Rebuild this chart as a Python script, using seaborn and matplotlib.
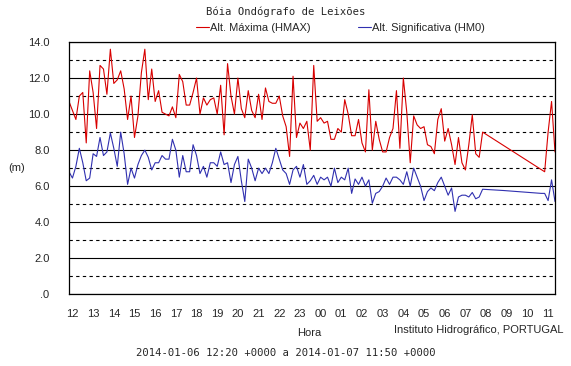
import pandas as pd
import matplotlib.pyplot as plt
import matplotlib.dates as mdates
from matplotlib.ticker import MultipleLocator, FixedLocator
import seaborn as sns

# Dados (intervalos de 10 min a partir de 2014-01-06 12:20)
INICIO = '2014-01-06 12:20'
hmax = [10.7, 10.2, 9.7, 11.0, 11.2, 8.4, 12.4, 11.2, 9.2, 12.7, 12.5, 11.1, 13.6, 11.7, 11.9,
        12.4, 11.4, 9.7, 11.0, 8.7, 9.9, 12.3, 13.6, 10.8, 12.5, 10.7, 11.3, 10.1, 10.0, 9.9,
        10.4, 9.8, 12.2, 11.8, 10.5,
        10.5, 11.2, 12.0, 10.0, 10.9, 10.5, 10.8, 10.9, 10.0, 11.6, 8.85, 12.8, 11.0, 10.0, 12.0,
        10.3, 9.8, 11.3, 10.2, 9.8, 11.1, 9.7, 11.45, 10.7, 10.6, 10.6, 11.0, 9.9, 9.3, 7.65,
        12.1, 8.7, 9.5, 9.2, 9.6,
        8.0, 12.7, 9.6, 9.8, 9.5, 9.6, 8.6, 8.6, 9.2, 9.0, 10.8, 10.0, 8.8, 8.8, 9.7,
        8.4, 7.9, 11.35, 8.0, 9.6, 8.6, 7.9, 7.9, 8.7, 9.2, 11.3, 8.1, 12.0, 10.1, 7.3,
        9.9, 9.4, 9.2, 9.3, 8.3,
        8.2, 7.8, 9.7, 10.3, 8.5, 9.2, 8.3, 7.2, 8.7, 7.3, 6.9, 8.3, 9.96, 7.8, 7.6, 9.0]
hm0 = [6.8, 6.45, 7.1, 8.1, 7.3, 6.3, 6.45, 7.8, 7.65, 8.7, 7.7, 7.9, 8.95, 8.1, 7.1,
       9.0, 7.8, 6.1, 7.0, 6.45, 7.2, 7.7, 8.0, 7.6, 6.9, 7.3, 7.3, 7.7, 7.5, 7.5,
       8.6, 8.0, 6.5, 7.7, 6.8,
       6.8, 8.3, 7.7, 6.7, 7.1, 6.5, 7.3, 7.3, 7.1, 7.9, 7.2, 7.3, 6.2, 7.2, 7.65,
       6.3, 5.15, 7.5, 7.0, 6.3, 7.0, 6.7, 7.0, 6.7, 7.3, 8.1, 7.5, 6.9, 6.7, 6.1,
       6.9, 7.1, 6.5, 7.2, 6.1,
       6.3, 6.6, 6.1, 6.5, 6.35, 6.5, 6.0, 7.0, 6.2, 6.5, 6.35, 7.0, 5.6, 6.4, 6.1,
       6.5, 6.0, 6.35, 5.05, 5.6, 5.7, 6.0, 6.45, 6.1, 6.5, 6.5, 6.35, 6.1, 6.8, 6.0,
       7.0, 6.5, 6.0, 5.2, 5.7,
       5.9, 5.75, 6.2, 6.5, 6.0, 5.5, 5.9, 4.6, 5.4, 5.5, 5.5, 5.4, 5.65, 5.3, 5.4, 5.83]

# depois da falha de dados
hmax_fim_horas = ['2014-01-07 11:20', '2014-01-07 11:30', '2014-01-07 11:40', '2014-01-07 11:50']
hmax_fim = [6.8, 9.0, 10.7, 7.9]
hm0_fim_horas = ['2014-01-07 09:20', '2014-01-07 11:10', '2014-01-07 11:20',
                 '2014-01-07 11:30', '2014-01-07 11:40', '2014-01-07 11:50']
hm0_fim = [5.76, 5.6, 5.6, 5.2, 6.35, 5.15]

rotulos_y = ['.0', '2.0', '4.0', '6.0', '8.0', '10.0', '12.0', '14.0']
NOME_HMAX = 'Alt. Máxima (HMAX)'
NOME_HM0 = 'Alt. Significativa (HM0)'

# Montar tabela
horas = pd.date_range(INICIO, periods=len(hmax), freq='10min')
df = pd.concat([
    pd.DataFrame({'Hora': horas, 'Altura': hmax, 'Serie': NOME_HMAX}),
    pd.DataFrame({'Hora': pd.to_datetime(hmax_fim_horas), 'Altura': hmax_fim, 'Serie': NOME_HMAX}),
    pd.DataFrame({'Hora': horas, 'Altura': hm0, 'Serie': NOME_HM0}),
    pd.DataFrame({'Hora': pd.to_datetime(hm0_fim_horas), 'Altura': hm0_fim, 'Serie': NOME_HM0}),
])

sns.set_style('white')
plt.rcParams['font.family'] = ['Liberation Sans', 'DejaVu Sans']

fig = plt.figure(figsize=(5.71, 3.66), dpi=100)
ax = fig.add_axes([69/571, 1 - 294.3/366, 486/571, 252.3/366])

sns.lineplot(data=df, x='Hora', y='Altura', hue='Serie', estimator=None,
             palette={NOME_HMAX: '#d80000', NOME_HM0: '#3030b0'},
             linewidth=0.8, ax=ax)

ax.set_xlim(pd.Timestamp('2014-01-06 12:20'), pd.Timestamp('2014-01-07 11:50'))
ax.set_ylim(0, 14)

# eixo y
ax.yaxis.set_major_locator(FixedLocator(range(0, 15, 2)))
ax.set_yticklabels(rotulos_y)
ax.yaxis.set_minor_locator(MultipleLocator(1))
ax.tick_params(axis='y', which='both', direction='out', length=8, width=0.75,
               color='black', pad=6, labelsize=8)
ax.yaxis.grid(True, which='major', color='black', linewidth=0.8, linestyle='-')
ax.yaxis.grid(True, which='minor', color='black', linewidth=0.8, linestyle=(0, (3, 3)))
ax.xaxis.grid(False)

# eixo x
ax.xaxis.set_major_locator(mdates.MinuteLocator(byminute=30))
ax.xaxis.set_major_formatter(mdates.DateFormatter('%H'))
ax.xaxis.set_minor_locator(mdates.MinuteLocator(byminute=[0, 10, 20, 40, 50]))
ax.tick_params(axis='x', which='both', direction='out', length=2.5, width=0.6,
               color='black', pad=8, labelsize=8)
ax.set_xlabel('')
ax.set_ylabel('')

for s in ax.spines.values():
    s.set_color('black')
    s.set_linewidth(0.9)

# legenda
handles, labels = ax.get_legend_handles_labels()
ax.get_legend().remove()
fig.legend(handles, labels, loc='center left', bbox_to_anchor=(196/571, 1 - 28/366),
           ncol=2, frameon=False, fontsize=8, handlelength=1.2, handletextpad=0.1,
           columnspacing=4.2, borderpad=0, borderaxespad=0)

# textos
fig.text(286/571, 1 - 12/366, 'Bóia Ondógrafo de Leixões', ha='center', va='center',
         fontsize=7.6, family='DejaVu Sans Mono')
fig.text(8/571, 1 - 168/366, '(m)', ha='left', va='center', fontsize=8)
fig.text(309/571, 1 - 333/366, 'Hora', ha='center', va='center', fontsize=8)
fig.text(564/571, 1 - 330/366, 'Instituto Hidrográfico, PORTUGAL', ha='right', va='center',
         fontsize=8)
fig.text(286/571, 1 - 353/366, '2014-01-06 12:20 +0000 a 2014-01-07 11:50 +0000',
         ha='center', va='center', fontsize=7.6, family='DejaVu Sans Mono')

fig.savefig('out.png', dpi=100)
